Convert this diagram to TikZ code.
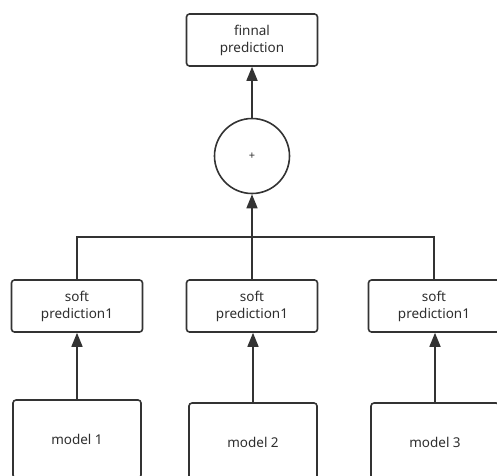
\documentclass[tikz,border=0pt]{standalone}
\usepackage{fontspec}
\setmainfont{Noto Sans}
\usetikzlibrary{arrows.meta}

\begin{document}
\begin{tikzpicture}[x=1pt, y=-1pt, >={Triangle[length=14pt, width=11pt]}]
    % gaya simpul
    \tikzstyle{box}=[draw=black!80, line width=1.6pt, rounded corners=3pt, align=center,
        text=black!82, font=\fontsize{13.5}{17}\selectfont, inner sep=0pt]
    \tikzstyle{predbox}=[box, minimum width=131pt, minimum height=52pt]
    \tikzstyle{modelbox}=[box, minimum width=128pt, minimum height=78pt]
    \tikzstyle{sumnode}=[circle, draw=black!80, line width=1.6pt, minimum size=75pt,
        inner sep=0pt, text=black!82, font=\fontsize{11}{12}\selectfont]
    \tikzstyle{link}=[draw=black!80, line width=1.6pt]

    \useasboundingbox (0,0) rectangle (497,475);

    % posisi simpul
    \node[predbox] (final) at (252,40) {finnal\\prediction};
    \node[sumnode] (sum) at (252,156) {+};
    \node[predbox] (soft1) at (77,306) {soft\\prediction1};
    \node[predbox] (soft2) at (252,306) {soft\\prediction1};
    \node[predbox] (soft3) at (434,306) {soft\\prediction1};
    \node[modelbox] (model1) at (77,439) {model 1};
    \node[modelbox] (model2) at (253,442) {model 2};
    \node[modelbox] (model3) at (435,442) {model 3};
    \coordinate (bus) at (252,237);

    % panah (relasi)
    \draw[link,->] (sum) -- (final);          % sum -> final
    \draw[link,->] (soft2) -- (sum);          % soft2 -> sum
    \draw[link] (soft1.north) |- (bus) -| (soft3.north);
    \draw[link,->] (model1) -- (soft1);       % model1 -> soft1
    \draw[link,->] (model2.north) -- (model2.north |- soft2.south); % model2 -> soft2
    \draw[link,->] (model3.north) -- (model3.north |- soft3.south); % model3 -> soft3
\end{tikzpicture}
\end{document}
